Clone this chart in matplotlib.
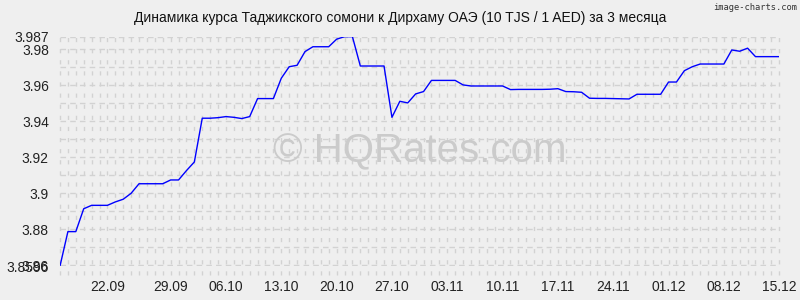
import numpy as np
import matplotlib
matplotlib.use("Agg")
import matplotlib.pyplot as plt
import matplotlib.transforms as mtransforms

# rate of 10 TJS in AED, one value per point
rates = [
    3.8596, 3.8787, 3.8787, 3.8914, 3.8933, 3.8933, 3.8933, 3.8952, 3.8967, 3.9000,
    3.9053, 3.9053, 3.9053, 3.9053, 3.9074, 3.9074, 3.9126, 3.9174, 3.9417, 3.9417,
    3.9420, 3.9426, 3.9422, 3.9415, 3.9426, 3.9526, 3.9526, 3.9526, 3.9639, 3.9703,
    3.9711, 3.9787, 3.9814, 3.9814, 3.9814, 3.9856, 3.9870, 3.9870, 3.9707, 3.9707,
    3.9707, 3.9707, 3.9422, 3.9511, 3.9502, 3.9552, 3.9565, 3.9627, 3.9627, 3.9627,
    3.9627, 3.9602, 3.9596, 3.9596, 3.9596, 3.9596, 3.9596, 3.9576, 3.9577, 3.9577,
    3.9577, 3.9577, 3.9578, 3.9581, 3.9565, 3.9564, 3.9561, 3.9528, 3.9527, 3.9527,
    3.9526, 3.9525, 3.9524, 3.9550, 3.9550, 3.9550, 3.9550, 3.9618, 3.9618, 3.9681,
    3.9703, 3.9718, 3.9718, 3.9718, 3.9718, 3.9796, 3.9789, 3.9806, 3.9759, 3.9759,
    3.9759, 3.9759,
]
date_labels = ["22.09", "29.09", "06.10", "13.10", "20.10", "27.10", "03.11",
               "10.11", "17.11", "24.11", "01.12", "08.12", "15.12"]
date_idx = [6, 14, 21, 28, 35, 42, 49, 56, 63, 70, 77, 84, 91]
y_labels = ["3.8596", "3.86", "3.88", "3.9", "3.92", "3.94", "3.96", "3.98", "3.987"]
y_vals = [3.8596, 3.86, 3.88, 3.90, 3.92, 3.94, 3.96, 3.98, 3.987]

title = "Динамика курса Таджикского сомони к Дирхаму ОАЭ (10 TJS / 1 AED) за 3 месяца"

plt.rcParams["font.family"] = ["Liberation Sans", "DejaVu Sans"]
plt.rcParams["lines.scale_dashes"] = False

bg = "#efefef"
grid_col = "#d2d2d2"

fig = plt.figure(figsize=(8, 3), dpi=100, facecolor=bg)
ax = fig.add_axes([0.075, 0.1133, 0.899, 0.7645], facecolor=bg)

x = np.arange(len(rates))
ymin, ymax = min(rates), 3.987

# horizontal grid every 0.01
for v in np.arange(3.86, 3.985, 0.01):
    ax.axhline(v, color=grid_col, lw=1, ls=(0, (4, 3)), zorder=1)
ax.axhline(ymax, color=grid_col, lw=1, ls=(0, (4, 3)), zorder=1)

# vertical grid at every point, running a little below the axis
trans = mtransforms.blended_transform_factory(ax.transData, ax.transAxes)
ax.vlines(x, -0.04, 1, transform=trans, color=grid_col, lw=1,
          linestyles=[(0, (3, 5))], clip_on=False, zorder=1)

ax.plot(x, rates, color="#0000ff", lw=1, zorder=3)

ax.set_xlim(0, len(rates) - 1)
ax.set_ylim(ymin, ymax)
ax.set_xticks(date_idx, date_labels)
ax.set_yticks(y_vals, y_labels)
ax.tick_params(length=0, labelsize=10, colors="#222222")
ax.tick_params(axis="x", pad=10)
ax.tick_params(axis="y", pad=8)
for s in ax.spines.values():
    s.set_visible(False)

fig.text(0.5, 0.94, title, ha="center", va="center", fontsize=10, color="#111111")
fig.text(0.996, 0.975, "image-charts.com", ha="right", va="center",
         fontsize=6.3, color="#333333", family="DejaVu Sans Mono")
ax.text(0.5, 0.5, "© HQRates.com", transform=ax.transAxes, ha="center", va="center",
        fontsize=29, color="#cbcbcb", zorder=2)

fig.savefig("out.png", dpi=100, facecolor=bg)
